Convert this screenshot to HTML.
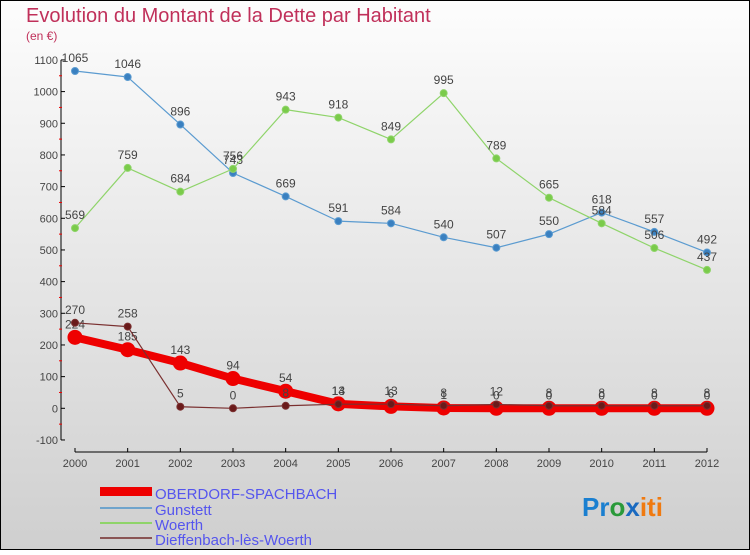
<!DOCTYPE html>
<html><head><meta charset="utf-8"><style>
body{margin:0;width:750px;height:550px;overflow:hidden;font-family:"Liberation Sans",sans-serif}
svg text{font-family:"Liberation Sans",sans-serif}
</style></head><body>
<svg width="750" height="550" id="chart">
<defs><linearGradient id="bg" x1="0" y1="0" x2="0" y2="1"><stop offset="0" stop-color="#fdfdfd"/><stop offset="1" stop-color="#cfcfcf"/></linearGradient></defs>
<rect x="0.5" y="0.5" width="749" height="549" fill="url(#bg)" stroke="#000"/>
<text x="26" y="22" font-size="20" fill="#c0305a">Evolution du Montant de la Dette par Habitant</text>
<text x="26" y="40" font-size="12" fill="#c0305a">(en €)</text>
<g id="axes"></g><g id="series"></g>
<g>
<rect x="100" y="487" width="52" height="9" fill="#e00"/>
<text x="155" y="499" font-size="15" fill="#5555ee">OBERDORF-SPACHBACH</text>
<rect x="100" y="507" width="52" height="2" fill="#6fa4cc"/>
<text x="155" y="515" font-size="15" fill="#5555ee">Gunstett</text>
<rect x="100" y="522" width="52" height="2" fill="#8fd46a"/>
<text x="155" y="530" font-size="15" fill="#5555ee">Woerth</text>
<rect x="100" y="537" width="52" height="2" fill="#8a5555"/>
<text x="155" y="545" font-size="15" fill="#5555ee">Dieffenbach-lès-Woerth</text>
</g>
<text x="582" y="516" font-size="26" font-weight="bold"><tspan fill="#1a7fd0">Pr</tspan><tspan fill="#2a9a3a">o</tspan><tspan fill="#1a6ac0">x</tspan><tspan fill="#f07a10">iti</tspan></text>
</svg>
<script>
const years=["2000","2001","2002","2003","2004","2005","2006","2007","2008","2009","2010","2011","2012"];
const yTicks=[-100,0,100,200,300,400,500,600,700,800,900,1000,1100];
const oberdorf=[224,185,143,94,54,14,6,1,0,0,0,0,0];
const gunstett=[1065,1046,896,743,669,591,584,540,507,550,618,557,492];
const woerth=[569,759,684,756,943,918,849,995,789,665,584,506,437];
const dieffenbach=[270,258,5,0,8,13,13,8,12,8,8,8,8];
const NS="http://www.w3.org/2000/svg";
const xS=i=>75+i*(707-75)/12;
const yS=v=>408.3-v*0.3167;
function mk(t,a,p){const e=document.createElementNS(NS,t);for(const k in a)e.setAttribute(k,a[k]);p.appendChild(e);return e;}
const ax=document.getElementById('axes');
let l=mk('line',{x1:61,y1:yS(1100),x2:61,y2:yS(-100),stroke:'#000'},ax);


l=mk('line',{x1:75,y1:452,x2:707,y2:452,stroke:'#000'},ax);


yTicks.forEach((v,i)=>{
  mk('line',{x1:61,y1:yS(v),x2:65,y2:yS(v),stroke:'#000'},ax);
  if(i<yTicks.length-1)mk('line',{x1:59,y1:yS(v+50),x2:62,y2:yS(v+50),stroke:'#e00'},ax);
  const t=mk('text',{x:58,y:yS(v)+4,'font-size':11,fill:'#444','text-anchor':'end'},ax);
  t.textContent=v;
  
  
});
years.forEach((y,i)=>{
  mk('line',{x1:xS(i),y1:448,x2:xS(i),y2:452,stroke:'#000'},ax);
  const t=mk('text',{x:xS(i),y:467,'font-size':11,fill:'#444','text-anchor':'middle'},ax);
  t.textContent=y;
  
  
});
const sg=document.getElementById('series');
function series(name,vals,color,w,r,fill){
  const g=mk('g',{},sg);
  
  
  const p=mk('polyline',{points:vals.map((v,i)=>xS(i)+','+yS(v)).join(' '),fill:'none',stroke:color,'stroke-width':w,'stroke-linejoin':'round'},g);
  
  
  vals.forEach((v,i)=>{
    const c=mk('circle',{cx:xS(i),cy:yS(v),r:r,fill:fill,stroke:color,'stroke-width':1},g);
    
    
    const t=mk('text',{x:xS(i),y:yS(v)-9,'font-size':12,fill:'#444','text-anchor':'middle'},g);
    t.textContent=v;
    
    
  });
}
series('gunstett',gunstett,'#5b9bd0',1.2,3.5,'#3a80c0');
series('woerth',woerth,'#8fd46a',1.2,3.5,'#7acb4a');
series('oberdorf',oberdorf,'#ee0000',8,7,'#ee0000');
series('dieffenbach',dieffenbach,'#7a3030',1.2,3.5,'#6a1a1a');
</script>
</body></html>
